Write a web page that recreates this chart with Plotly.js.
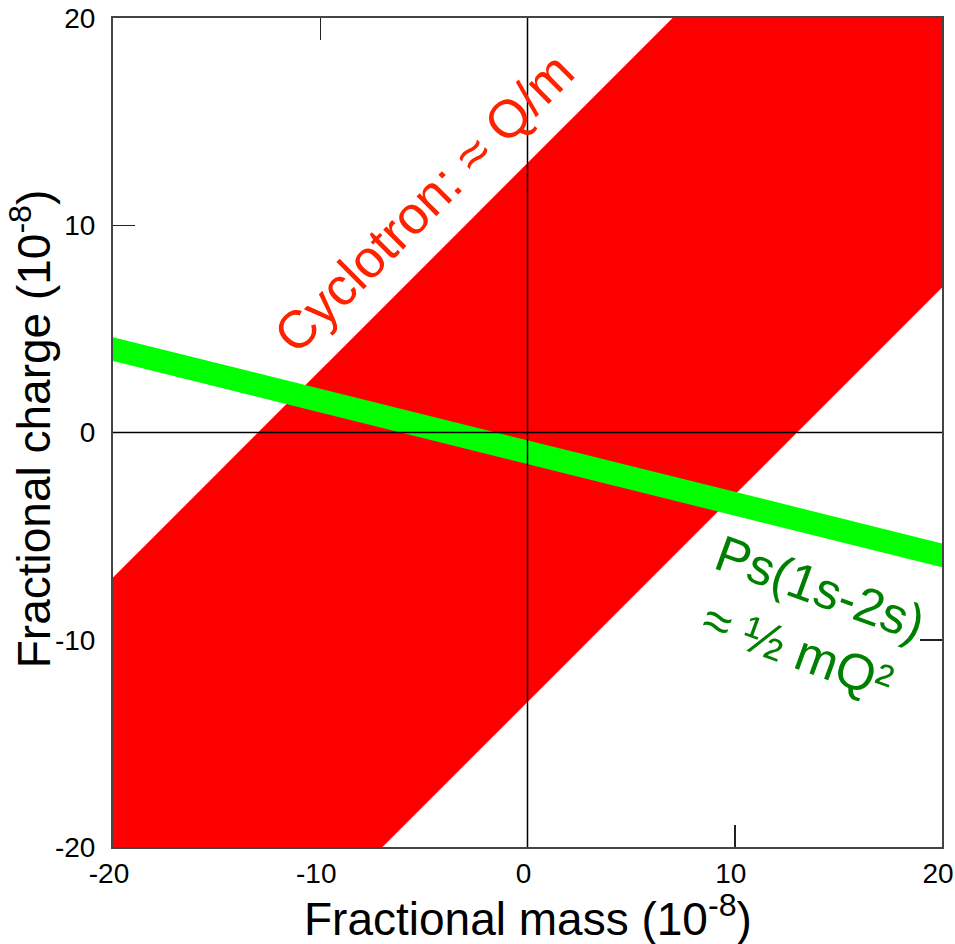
<!DOCTYPE html>
<html>
<head>
<meta charset="utf-8">
<script src="https://cdn.plot.ly/plotly-3.0.1.min.js"></script>
<style>html,body{margin:0;padding:0;background:#fff;}#chart{width:955px;height:944px;}</style>
</head>
<body>
<div id="chart"></div>
<script>
// Cyclotron band (Q/m): polygon vertices (fractional mass, fractional charge), units 1e-8
const cycMass   = [-20, -20, 7, 20, 20, -7];
const cycCharge = [-20, -7, 20, 20, 7, -20];
// Ps(1s-2s) band: upper and lower edges at the two ends of the mass range
const psMass        = [-20, 20];
const psUpperCharge = [4.6, -5.35];
const psLowerCharge = [3.45, -6.5];
// axis ticks
const tickVals = [-20, -10, 0, 10, 20];
const tickText = ['-20', '-10', '0', '10', '20'];

const FONT = 'Arial, "Liberation Sans", sans-serif';

const psX = psMass.concat(psMass.slice().reverse());
const psY = psUpperCharge.concat(psLowerCharge.slice().reverse());

const traces = [
  {x: cycMass.concat([cycMass[0]]), y: cycCharge.concat([cycCharge[0]]), type: 'scatter', mode: 'lines',
   fill: 'toself', fillcolor: '#ff0000', line: {width: 0, color: '#ff0000'}, hoverinfo: 'skip'},
  {x: psX.concat([psX[0]]), y: psY.concat([psY[0]]), type: 'scatter', mode: 'lines',
   fill: 'toself', fillcolor: '#00ff00', line: {width: 0, color: '#00ff00'}, hoverinfo: 'skip'}
];

const axisCommon = {
  range: [-20, 20], tickvals: tickVals, ticktext: tickText,
  ticks: 'inside', ticklen: 22, tickwidth: 1.5, tickcolor: '#222',
  showline: true, linecolor: '#444', linewidth: 2, mirror: 'ticks',
  showgrid: false, zeroline: false, layer: 'below traces',
  ticklabeloverflow: 'allow',
  tickfont: {family: FONT, size: 28, color: '#000'}, fixedrange: true
};

const layout = {
  width: 955, height: 944,
  margin: {l: 113, r: 13, t: 18, b: 97},
  paper_bgcolor: '#fff', plot_bgcolor: '#fff',
  showlegend: false,
  xaxis: Object.assign({}, axisCommon, {ticklabelstandoff: 0, ticklabelshift: -4}),
  yaxis: Object.assign({}, axisCommon, {ticklabelstandoff: 10}),
  shapes: [
    {type: 'line', xref: 'x', yref: 'y', x0: 0, x1: 0, y0: -20, y1: 20, line: {color: '#000', width: 1.5}, layer: 'above'},
    {type: 'line', xref: 'x', yref: 'y', x0: -20, x1: 20, y0: 0, y1: 0, line: {color: '#000', width: 1.5}, layer: 'above'}
  ],
  annotations: [
    {x: 0.5, y: -0.1205, xref: 'paper', yref: 'paper', xanchor: 'center', yanchor: 'bottom',
     text: 'Fractional mass (10<sup>-8</sup>)', showarrow: false,
     font: {family: FONT, size: 46, color: '#000'}},
    {x: -0.099, y: 0.505, xref: 'paper', yref: 'paper', xanchor: 'center', yanchor: 'middle',
     text: 'Fractional charge (10<sup>-8</sup>)', showarrow: false, textangle: -90,
     font: {family: FONT, size: 46, color: '#000'}},
    {x: -5.0, y: 11.1, xref: 'x', yref: 'y', text: 'Cyclotron: ≈ Q/m', showarrow: false,
     textangle: -45, font: {family: FONT, size: 53, color: '#ff2200'}},
    {x: 13.6, y: -9.0, xref: 'x', yref: 'y', text: 'Ps(1s-2s)<br>≈ ½ mQ²', showarrow: false,
     textangle: 20, align: 'center', font: {family: FONT, size: 51, color: '#008000'}}
  ]
};

Plotly.newPlot('chart', traces, layout, {displayModeBar: false, staticPlot: true});
</script>
</body>
</html>
